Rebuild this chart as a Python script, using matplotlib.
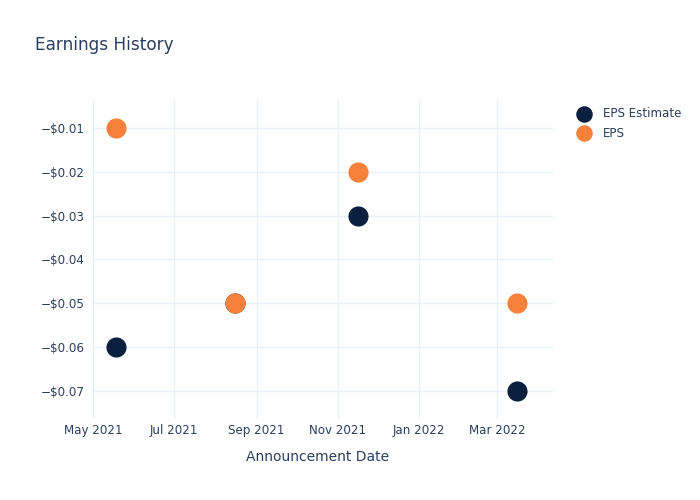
import numpy as np
import pandas as pd
import matplotlib
matplotlib.use("Agg")
import matplotlib.pyplot as plt
import matplotlib.dates as mdates
from matplotlib.ticker import FuncFormatter

dates = pd.to_datetime(["2021-05-18", "2021-08-16", "2021-11-16", "2022-03-16"])
eps_estimate = [-0.06, -0.05, -0.03, -0.07]
eps_actual = [-0.01, -0.05, -0.02, -0.05]

text_color = "#2a3f5f"
grid_color = "#ebf0f8"
navy = "#0b1f3f"
orange = "#f7813a"

fig = plt.figure(figsize=(7, 5), dpi=100)
ax = fig.add_axes([0.133, 0.164, 0.657, 0.636])

ax.scatter(dates, eps_estimate, s=210, color=navy, label="EPS Estimate", zorder=3, linewidths=0)
ax.scatter(dates, eps_actual, s=210, color=orange, label="EPS", zorder=4, linewidths=0)

ax.set_xlim(pd.Timestamp("2021-05-01"), pd.Timestamp("2022-04-12"))
ax.set_ylim(-0.0762, -0.0036)

ax.xaxis.set_major_locator(mdates.MonthLocator(bymonth=[1, 3, 5, 7, 9, 11]))
ax.xaxis.set_major_formatter(mdates.DateFormatter("%b %Y"))
ax.set_yticks([-0.07, -0.06, -0.05, -0.04, -0.03, -0.02, -0.01])
ax.yaxis.set_major_formatter(FuncFormatter(lambda v, p: "\u2212$%.2f" % abs(v)))

for s in ax.spines.values():
    s.set_visible(False)
ax.grid(True, color=grid_color, linewidth=1)
ax.set_axisbelow(True)
ax.tick_params(length=0, labelsize=8.6, colors=text_color)
ax.tick_params(axis="x", pad=4)
ax.tick_params(axis="y", pad=6)

ax.set_xlabel("Announcement Date", fontsize=10, color=text_color, labelpad=9)
ax.xaxis.set_label_coords(0.487, -0.1)
ax.xaxis.label.set_va("top")

fig.text(0.05, 0.91, "Earnings History", fontsize=12.2, color=text_color, va="center")

leg = ax.legend(loc="upper left", bbox_to_anchor=(1.017, 1.012), frameon=False,
                fontsize=8.6, labelcolor=text_color, handletextpad=0.6,
                labelspacing=0.55, markerscale=0.82)

plt.savefig("out.png", dpi=100)
